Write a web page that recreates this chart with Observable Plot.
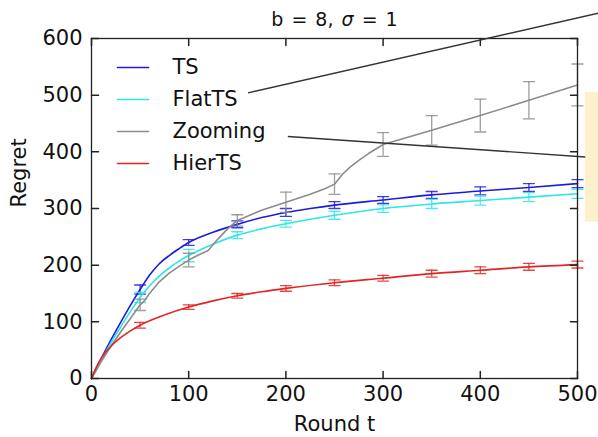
<!DOCTYPE html>
<html><head><meta charset="utf-8">
<script src="https://cdn.jsdelivr.net/npm/d3@7"></script>
<script src="https://cdn.jsdelivr.net/npm/@observablehq/plot@0.6"></script>
<style>body{margin:0;background:#fff}</style>
</head><body><div id="chart"></div>
<script>
// ---- data ----
const seriesNames = ["TS", "FlatTS", "Zooming", "HierTS"];
const seriesColors = ["#1c1cde", "#2ee6e6", "#8c8c8c", "#e42424"];
const seriesCurves = ["monotone-x", "monotone-x", "linear", "monotone-x"];

const tsRounds = [0,10,20,30,40,50,60,70,80,90,100,125,150,175,200,225,250,300,350,400,450,500];
const tsRegret = [0,35,68,99,129,157,183,203,217,229,240,258,272,284,293,300,306,315,324,331,337,344];

const flatRounds = [0,10,20,30,40,50,60,70,80,90,100,125,150,175,200,250,300,350,400,450,500];
const flatRegret = [0,33,63,91,118,143,164,181,195,207,217,237,253,264,273,288,300,308,314,320,326];

const zoomRounds = [0,10,20,30,40,50,55,60,70,80,90,100,110,120,130,140,150,175,200,225,240,250,258,266,275,285,300,350,400,450,500];
const zoomRegret = [0,30,57,82,106,130,138,151,171,186,198,209,218,226,246,264,279,297,311,325,335,343,360,373,385,397,413,438,464,491,518];

const hierRounds = [0,5,10,20,30,40,50,75,100,125,150,175,200,250,300,350,400,450,500];
const hierRegret = [0,20,36,57,72,84,94,112,126,137,146,153,159,169,177,185,191,197,201];

const errRounds = [50,100,150,200,250,300,350,400,450,500];
const tsErr   = [8,5,6,7,6,6,6,7,7,7];
const flatErr = [9,11,6,6,7,7,8,8,8,8];
const zoomErr = [10,12,10,18,18,21,26,29,33,37];
const hierErr = [5,4,4,5,5,5,6,6,6,6];

const xTicks = [0,100,200,300,400,500];
const yTicks = [0,100,200,300,400,500,600];

const titleText = "b = 8, σ = 1";
const xLabel = "Round t";
const yLabel = "Regret";

// slide annotations drawn over the figure (data coordinates)
const annotLinks = [
  {x1: 161, y1: 504, x2: 530, y2: 648},
  {x1: 202, y1: 427, x2: 508, y2: 391}
];
const annotBox = [{x1: 508, x2: 540, y1: 276, y2: 505}];

// ---- build tables ----
const seriesData = [
  [tsRounds, tsRegret, tsErr],
  [flatRounds, flatRegret, flatErr],
  [zoomRounds, zoomRegret, zoomErr],
  [hierRounds, hierRegret, hierErr]
];
const lineRows = [], barRows = [];
seriesData.forEach(([xs, ys, es], i) => {
  const name = seriesNames[i];
  xs.forEach((t, j) => lineRows.push({series: name, t, regret: ys[j]}));
  errRounds.forEach((t, j) => {
    const v = ys[xs.indexOf(t)];
    barRows.push({series: name, t, regret: v, lo: v - es[j], hi: v + es[j]});
  });
});

const tickShape = {draw(ctx, l) { ctx.moveTo(0, 0); ctx.lineTo(0, -l); }};
const FS = 21;

const marks = [];
// annotation box (behind)
marks.push(Plot.rect(annotBox, {x1: "x1", x2: "x2", y1: "y1", y2: "y2", fill: "#fdf0cd"}));

seriesNames.forEach((name, i) => {
  const L = lineRows.filter(d => d.series === name);
  const B = barRows.filter(d => d.series === name);
  marks.push(Plot.line(L, {x: "t", y: "regret", stroke: "series", strokeWidth: 1.6, curve: seriesCurves[i]}));
  marks.push(Plot.ruleX(B, {x: "t", y1: "lo", y2: "hi", stroke: "series", strokeWidth: 1.3, strokeOpacity: 0.85}));
  marks.push(Plot.vector(B, {x: "t", y: "lo", rotate: 90, length: 11, anchor: "middle", shape: tickShape, stroke: "series", strokeWidth: 1.3, strokeOpacity: 0.85}));
  marks.push(Plot.vector(B, {x: "t", y: "hi", rotate: 90, length: 11, anchor: "middle", shape: tickShape, stroke: "series", strokeWidth: 1.3, strokeOpacity: 0.85}));
});

// frame and inward ticks
marks.push(Plot.frame({stroke: "#222", strokeWidth: 1.3}));
marks.push(Plot.vector(xTicks, {x: d => d, y: yTicks[0], rotate: 0, length: 7, anchor: "start", shape: tickShape, stroke: "#222"}));
marks.push(Plot.vector(xTicks, {x: d => d, y: yTicks[yTicks.length - 1], rotate: 180, length: 7, anchor: "start", shape: tickShape, stroke: "#222"}));
marks.push(Plot.vector(yTicks, {y: d => d, x: xTicks[0], rotate: 90, length: 7, anchor: "start", shape: tickShape, stroke: "#222"}));
marks.push(Plot.vector(yTicks, {y: d => d, x: xTicks[xTicks.length - 1], rotate: -90, length: 7, anchor: "start", shape: tickShape, stroke: "#222"}));

marks.push(Plot.axisX(xTicks, {tickSize: 0, tickPadding: 8, fontSize: FS, label: null, fill: "#111"}));
marks.push(Plot.axisY(yTicks, {tickSize: 0, tickPadding: 9, fontSize: FS, label: null, fill: "#111"}));

// axis labels and title
marks.push(Plot.text([xLabel], {text: d => d, frameAnchor: "bottom", lineAnchor: "middle", dy: 46, fontSize: FS, fill: "#111"}));
marks.push(Plot.text([yLabel], {text: d => d, frameAnchor: "left", lineAnchor: "middle", dx: -72, dy: -1, rotate: -90, fontSize: FS, fill: "#111"}));
marks.push(Plot.text([titleText], {text: d => d, frameAnchor: "top", lineAnchor: "middle", dy: -19, fontSize: 19, fill: "#111"}));

// legend inside the plot
seriesNames.forEach((name, i) => {
  marks.push(Plot.vector([name], {frameAnchor: "top-left", dx: 26, dy: 29 + 32 * i, rotate: 90, length: 31, anchor: "start", shape: tickShape, stroke: seriesColors[i], strokeWidth: 1.6}));
  marks.push(Plot.text([name], {text: d => d, frameAnchor: "top-left", lineAnchor: "middle", dx: 81, dy: 29 + 32 * i, textAnchor: "start", fontSize: FS, fill: "#111"}));
});

// annotation lines (on top)
marks.push(Plot.link(annotLinks, {x1: "x1", y1: "y1", x2: "x2", y2: "y2", stroke: "#333", strokeWidth: 1.4}));

const chart = Plot.plot({
  width: 598, height: 437,
  marginLeft: 91, marginRight: 21, marginTop: 38, marginBottom: 59,
  style: {fontFamily: "DejaVu Sans", background: "#fff", overflow: "visible"},
  x: {domain: [0, 500], label: null},
  y: {domain: [0, 600], label: null},
  color: {domain: seriesNames, range: seriesColors},
  marks
});

// italic sigma in title (matplotlib mathtext look)
chart.querySelectorAll("text").forEach(t => {
  if (t.textContent === titleText) {
    const parts = titleText.split("σ");
    t.textContent = "";
    const ns = "http://www.w3.org/2000/svg";
    const a = document.createElementNS(ns, "tspan"); a.textContent = parts[0];
    const s = document.createElementNS(ns, "tspan"); s.textContent = "σ"; s.setAttribute("font-style", "italic");
    const b = document.createElementNS(ns, "tspan"); b.textContent = parts[1];
    t.append(a, s, b);
    t.setAttribute("word-spacing", "2px");
  }
});
document.getElementById("chart").append(chart);
</script>
</body></html>
